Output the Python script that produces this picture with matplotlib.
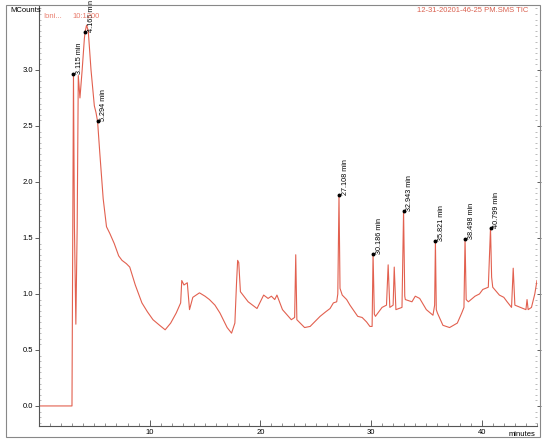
import matplotlib
matplotlib.use("Agg")
import matplotlib.pyplot as plt
from matplotlib.patches import Rectangle
from matplotlib.ticker import MultipleLocator

plt.rcParams['font.family'] = ['Liberation Sans', 'DejaVu Sans']

# retention time (min) and signal (MCounts)
time_min = [0.0, 2.98, 3.115, 3.2, 3.33, 3.45, 3.55, 3.7, 3.9, 4.1, 4.165, 4.3, 4.45,
            4.7, 5.0, 5.15, 5.294, 5.5, 5.8, 6.1, 6.2, 6.4, 6.8, 7.2, 7.5, 7.9, 8.2, 8.7,
            9.3, 9.8, 10.3, 10.9, 11.4, 11.9, 12.4, 12.8, 12.9, 13.1, 13.4, 13.6, 13.9,
            14.5, 15.0, 15.4, 15.9, 16.35, 17.0, 17.4, 17.7, 17.85, 17.95, 18.05, 18.2,
            18.9, 19.3, 19.7, 20.3, 20.7, 21.0, 21.3, 21.5, 22.0, 22.8, 23.1, 23.2, 23.3,
            24.0, 24.5, 25.4, 25.9, 26.3, 26.6, 26.9, 27.0, 27.108, 27.2, 27.4, 27.8,
            28.1, 28.8, 29.2, 29.6, 29.9, 30.1, 30.186, 30.3, 30.4, 31.0, 31.4, 31.55,
            31.7, 32.0, 32.1, 32.25, 32.8, 32.943, 33.05, 33.1, 33.7, 34.0, 34.4, 35.0,
            35.6, 35.75, 35.821, 35.9, 36.0, 36.5, 37.1, 37.8, 38.2, 38.4, 38.498, 38.6,
            38.8, 39.4, 39.8, 40.1, 40.6, 40.799, 40.9, 41.0, 41.6, 42.0, 42.3, 42.7,
            42.85, 43.0, 43.5, 44.0, 44.1, 44.2, 44.5, 44.8, 45.0]
signal = [0.0, 0.0, 2.96, 1.6, 0.73, 1.6, 2.95, 2.75, 3.0, 3.28, 3.34, 3.40, 3.35,
          3.0, 2.68, 2.62, 2.54, 2.25, 1.85, 1.60, 1.58, 1.54, 1.45, 1.34, 1.30, 1.27,
          1.24, 1.08, 0.92, 0.84, 0.77, 0.72, 0.68, 0.74, 0.83, 0.92, 1.12, 1.08, 1.10,
          0.86, 0.97, 1.01, 0.98, 0.95, 0.90, 0.83, 0.70, 0.65, 0.74, 1.10, 1.30, 1.28,
          1.02, 0.93, 0.90, 0.87, 0.99, 0.96, 0.98, 0.95, 0.99, 0.86, 0.77, 0.79, 1.35,
          0.77, 0.70, 0.71, 0.80, 0.84, 0.87, 0.92, 0.93, 1.00, 1.88, 1.05, 0.99, 0.95,
          0.90, 0.80, 0.79, 0.75, 0.71, 0.71, 1.36, 0.82, 0.80, 0.88, 0.90, 1.26,
          0.88, 0.90, 1.24, 0.86, 0.88, 1.74, 0.98, 0.95, 0.93, 0.98, 0.96, 0.86,
          0.81, 0.90, 1.47, 0.86, 0.83, 0.72, 0.70, 0.74, 0.83, 0.88, 1.49, 0.95,
          0.93, 0.98, 1.00, 1.04, 1.06, 1.59, 1.15, 1.06, 0.99, 0.97, 0.93, 0.88,
          1.23, 0.90, 0.88, 0.86, 0.95, 0.86, 0.88, 1.00, 1.12]

# labelled peaks
peak_times = [3.115, 4.165, 5.294, 27.108, 30.186, 32.943, 35.821, 38.498, 40.799]
peak_vals = [2.96, 3.34, 2.54, 1.88, 1.36, 1.74, 1.47, 1.49, 1.59]
peak_labels = ["3.115 min", "4.165 min", "5.294 min", "27.108 min", "30.186 min",
               "32.943 min", "35.821 min", "38.498 min", "40.799 min"]

fig = plt.figure(figsize=(5.5, 4.43), dpi=100)
ax = fig.add_axes([39 / 550, 1 - 426 / 443, 498 / 550, 420 / 443])

ax.plot(time_min, signal, color='#e2604f', lw=0.8)
ax.plot(peak_times, peak_vals, 'o', color='black', ms=1.8)
for t, v, lab in zip(peak_times, peak_vals, peak_labels):
    ax.annotate(lab, (t, v), xytext=(2, 0), textcoords='offset points',
                rotation=90, ha='left', va='bottom', fontsize=5.2,
                family=['Liberation Sans Narrow', 'Liberation Sans', 'DejaVu Sans'],
                annotation_clip=False)

ax.set_xlim(0, 45)
ax.set_ylim(-0.179, 3.571)
ax.xaxis.set_minor_locator(MultipleLocator(1))
ax.yaxis.set_minor_locator(MultipleLocator(0.05))
ax.set_xticks([10, 20, 30, 40])
ax.set_yticks([0.0, 0.5, 1.0, 1.5, 2.0, 2.5, 3.0])
ax.set_yticklabels(["0.0", "0.5", "1.0", "1.5", "2.0", "2.5", "3.0"])
ax.tick_params(axis='x', which='major', direction='in', length=4, width=0.6,
               labelsize=5.5, pad=2, color='#444444')
ax.tick_params(axis='x', which='minor', direction='in', length=2, width=0.5, color='#666666')
ax.tick_params(axis='y', which='major', direction='out', length=3, width=0.6,
               labelsize=5.5, pad=1, color='#444444', right=True)
ax.tick_params(axis='y', which='minor', direction='in', length=1.5, width=0.4,
               color='#888888', right=True)
for side in ('top', 'right'):
    ax.spines[side].set_visible(False)
for side in ('left', 'bottom'):
    ax.spines[side].set_color('#555555')
    ax.spines[side].set_linewidth(0.8)

# header / footer texts
fig.text(10 / 550, 1 - 11 / 443, "MCounts", fontsize=5.5, va='center', ha='left')
fig.text(43 / 550, 1 - 16 / 443, "Ioni...", fontsize=5.5, va='center', ha='left',
         color='#e87a6a')
fig.text(72 / 550, 1 - 16 / 443, "10:1200", fontsize=5.5, va='center', ha='left',
         color='#e87a6a')
fig.text(528 / 550, 1 - 11 / 443, "12-31-20201-46-25 PM.SMS TIC", fontsize=5.5,
         va='center', ha='right', color='#d9604f')
fig.text(535 / 550, 1 - 435 / 443, "minutes", fontsize=5.5, va='center', ha='right')

# outer frame
fig.patches.append(Rectangle((6 / 550, 1 - 437 / 443), 534 / 550, 432 / 443,
                             transform=fig.transFigure, fill=False,
                             edgecolor='#888888', lw=0.8))

fig.savefig("out.png", dpi=100)
